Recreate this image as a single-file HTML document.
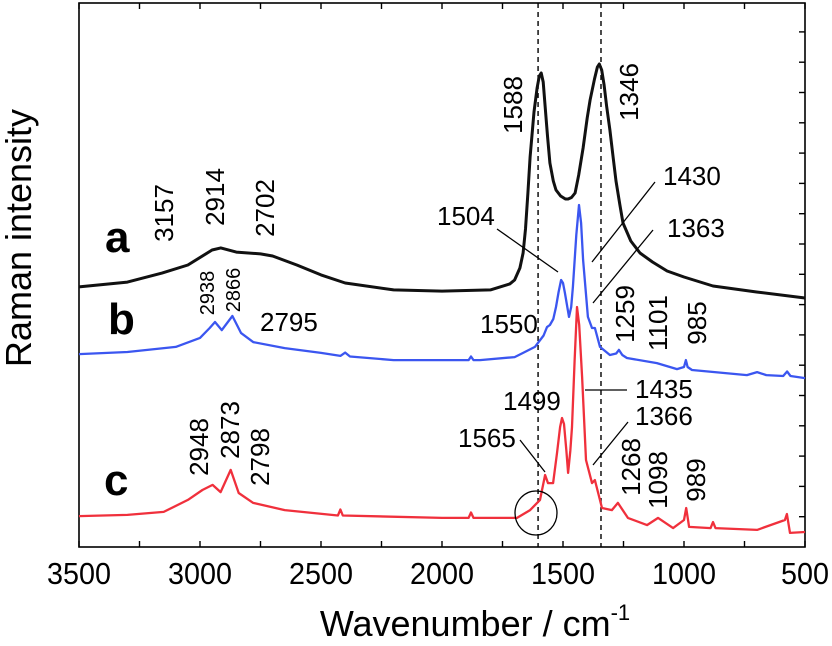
<!DOCTYPE html>
<html><head><meta charset="utf-8"><style>
html,body{margin:0;padding:0;background:#fff}
svg{display:block;font-family:"Liberation Sans",Arial,sans-serif}
</style></head><body>
<svg id="chart" width="832" height="646" viewBox="0 0 832 646" xmlns="http://www.w3.org/2000/svg">
<g id="plot"></g>
</svg>
<script>
// ---- data (wavenumber in cm-1, intensity in arbitrary units) ----
const aWn  = [3500,3300,3157,3050,2950,2914,2850,2750,2700,2600,2500,2400,2200,2000,1800,1720,1700,1678,1665,1655,1645,1636,1620,1607,1598,1590,1582,1574,1564,1554,1540,1529,1510,1490,1479,1465,1450,1435,1417,1400,1388,1370,1358,1350,1340,1330,1320,1306,1293,1281,1265,1252,1220,1182,1130,1070,1000,880,700,500];
const aInt = [86.7,88.3,91.3,94,99,99.7,98.3,97.7,97,94,90.7,88,85.7,85.3,85.7,87.7,89,93,98,106,118,130,145,153,157,158,155,147,137,128,122,119,117,116,116,116.5,118,124,133,143,149,156,160,161,159,154,147,139,130,122,114,108,102,98,95,92,90,87,85,83];
const bWn  = [3500,3300,3100,3000,2960,2938,2910,2866,2830,2780,2650,2500,2420,2400,2380,2200,2000,1890,1880,1870,1843,1700,1665,1616,1580,1566,1554,1540,1529,1518,1508,1500,1492,1475,1466,1459,1445,1434,1425,1417,1397,1380,1368,1347,1306,1280,1269,1255,1236,1112,1029,1000,992,985,967,740,698,660,590,574,560,500];
const bInt = [64.3,65,66.7,69.7,73,75,72.3,77,71.3,68.3,66.3,64.7,63.7,64.8,63.5,62.3,62.3,62.3,63.5,62.3,62.3,63.3,64.7,66.7,70.5,73.3,74,76,80,85,89,88,84.7,76.7,80,86.7,104,114,108,95.7,76.7,73,73,66.7,64,64.5,65.7,64,63,61.3,59.3,60,62.3,60,59,57.3,58.3,57.3,57,58.5,57,56.3];
const cWn  = [3500,3300,3150,3050,2990,2948,2915,2873,2840,2780,2650,2430,2420,2410,2000,1890,1880,1870,1700,1690,1636,1595,1574,1562,1541,1525,1512,1504,1496,1486,1479,1470,1463,1452,1442,1433,1421,1405,1380,1368,1339,1298,1273,1232,1153,1107,1045,1000,991,979,890,880,870,698,583,575,562,500];
const cInt = [10.3,10.7,11.7,15.7,19,20.7,18.3,25.7,18,14.7,12.3,10.5,12.5,10.5,9.7,9.7,11.5,9.7,9.7,9.7,12.3,15.7,24,21.3,21.3,31.3,40,43,41,32,24.7,32,40,62,80,74,56.7,29,21.3,22.3,13,12.3,14.7,9.7,7.3,9.7,6.3,9,13,6.7,6.3,8.3,6.3,5.7,9,11,4.7,5];
const xTicks = [3500,3000,2500,2000,1500,1000,500];
const xMinor = [3250,2750,2250,1750,1250,750];
const yTicks = [1,2,3,4,5,6,7,8,9,10,11,12,13,14,15,16,17];

// ---- axes ----
const L=79, R=805, T=3, B=547;
const xS = w => L + (3500 - w) * (R - L) / 3000;
const yS = v => B - v * 3;
const NS = "http://www.w3.org/2000/svg";
const plot = document.getElementById('plot');
function mk(tag, attrs, parent){ const e=document.createElementNS(NS,tag); for(const k in attrs) e.setAttribute(k,attrs[k]); (parent||plot).appendChild(e); return e; }

const frame = mk('rect',{x:L,y:T,width:R-L,height:B-T,fill:'none',stroke:'#000','stroke-width':1.6});



xTicks.concat(xMinor).forEach(w=>{
  const x=xS(w);
  const t1=mk('line',{x1:x,x2:x,y1:B,y2:B-6,stroke:'#000','stroke-width':1.4});
  
  
  const t2=mk('line',{x1:x,x2:x,y1:T,y2:T+6,stroke:'#000','stroke-width':1.4});
  
  
});
xTicks.forEach(w=>{
  const t=mk('text',{x:xS(w),y:584,'text-anchor':'middle','font-size':31,'textLength':64,'lengthAdjust':'spacingAndGlyphs'});
  if(w===500){t.setAttribute('textLength',48);}
  t.textContent=w;
  
  
});
yTicks.forEach(k=>{
  const y=B - k*30.3;
  const t=mk('line',{x1:R,x2:R-6,y1:y,y2:y,stroke:'#000','stroke-width':1.4});
  
  
});

[1603,1343].forEach(w=>{
  const d=mk('line',{x1:xS(w),x2:xS(w),y1:T,y2:B,stroke:'#000','stroke-width':1.4,'stroke-dasharray':'5,4'});
  
  
});

function series(wn,iv,color,width,name){
  const p=mk('polyline',{points:wn.map((w,i)=>xS(w).toFixed(1)+','+yS(iv[i]).toFixed(1)).join(' '),fill:'none',stroke:color,'stroke-width':width,'stroke-linejoin':'round'});
  
  
}
series(aWn,aInt,'#111',3,'spectrum-a');
series(bWn,bInt,'#3b56f0',2.3,'spectrum-b');
series(cWn,cInt,'#f0303c',2.3,'spectrum-c');

const c=mk('ellipse',{cx:536,cy:513,rx:21,ry:22,fill:'none',stroke:'#000','stroke-width':1.3});



[[497,229,558,272],[655,182,592,262],[653,230,593,303],[585,390,627,390],[628,422,593,465],[520,440,545,472]].forEach(l=>{
  const e=mk('line',{x1:l[0],y1:l[1],x2:l[2],y2:l[3],stroke:'#000','stroke-width':1.3});
  
  
});

[['1504',437,225,26],['1550',480,333,26],['1430',663,185,26],['1363',667,237,26],['2795',260,331,26],['1435',635,398,26],['1366',635,425,26],['1499',503,410,26],['1565',458,447,26]].forEach(a=>{
  const t=mk('text',{x:a[1],y:a[2],'font-size':a[3]});
  t.textContent=a[0];
  
  
});
[['3157',164,213,26],['2914',215,197,26],['2702',265,208,26],['2938',208,293,20],['2866',234,290,20],['1588',513,105,26],['1346',629,92,26],['1259',625,314,26],['1101',658,323,26],['985',697,323,26],['1268',631,467,26],['1098',658,480,26],['989',696,480,26],['2948',199,447,26],['2873',230,430,26],['2798',260,457,26]].forEach(a=>{
  const t=mk('text',{x:0,y:0,'font-size':a[3],'text-anchor':'middle','dominant-baseline':'central',transform:`translate(${a[1]},${a[2]}) rotate(-90)`});
  t.textContent=a[0];
  
  
});
[['a',105,252],['b',108,334],['c',104,495]].forEach(a=>{
  const t=mk('text',{x:a[1],y:a[2],'font-size':44,'font-weight':'bold'});
  t.textContent=a[0];
  
  
});

const yt=mk('text',{x:0,y:0,'font-size':36,'text-anchor':'middle',transform:'translate(31,238) rotate(-90)'});
yt.textContent='Raman intensity';


const xt=mk('text',{x:475,y:636,'font-size':36,'text-anchor':'middle'});
xt.innerHTML='Wavenumber / cm<tspan font-size="22" dy="-16">-1</tspan>';


</script>
</body></html>
